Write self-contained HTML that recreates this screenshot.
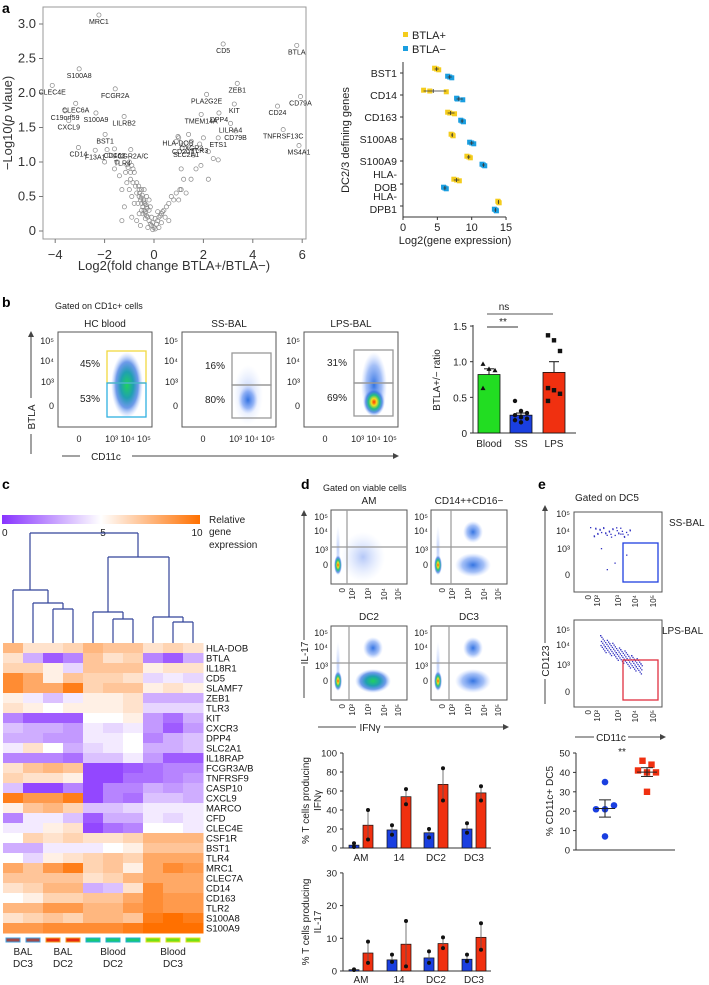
<!DOCTYPE html>
<html><head><meta charset="utf-8"><style>
html,body{margin:0;padding:0;background:#fff;}
svg{display:block;font-family:"Liberation Sans",sans-serif;}
</style></head><body>
<svg id="fig" width="709" height="985" viewBox="0 0 709 985" xmlns="http://www.w3.org/2000/svg">
<defs>
<radialGradient id="gBlue"><stop offset="0" stop-color="#2a6de0" stop-opacity="0.95"/><stop offset="0.6" stop-color="#5a8cf0" stop-opacity="0.55"/><stop offset="1" stop-color="#9ab8ff" stop-opacity="0"/></radialGradient>
<radialGradient id="gHot"><stop offset="0" stop-color="#ff3000"/><stop offset="0.25" stop-color="#f0e020"/><stop offset="0.5" stop-color="#20c080"/><stop offset="0.75" stop-color="#3070e0" stop-opacity="0.7"/><stop offset="1" stop-color="#9ab8ff" stop-opacity="0"/></radialGradient>
<radialGradient id="gGreen"><stop offset="0" stop-color="#20d060"/><stop offset="0.4" stop-color="#20a0b0"/><stop offset="0.7" stop-color="#3070e0" stop-opacity="0.7"/><stop offset="1" stop-color="#9ab8ff" stop-opacity="0"/></radialGradient>
<radialGradient id="gLight"><stop offset="0" stop-color="#6a90f0" stop-opacity="0.5"/><stop offset="1" stop-color="#b0c8ff" stop-opacity="0"/></radialGradient>
</defs>
<g font-size="14" font-weight="bold">
<text x="2" y="13">a</text>
<text x="2" y="307">b</text>
<text x="2" y="489">c</text>
<text x="301" y="489">d</text>
<text x="538" y="489">e</text>
</g>
<g id="volcano"></g>
<g id="dotplot"></g>
<g id="flowB"></g>
<g id="barB"></g>
<g id="heat"></g>
<g id="flowD"></g>
<g id="barD1"></g>
<g id="barD2"></g>
<g id="flowE"></g>
<g id="scatE"></g>
</svg>
<script>
// ---------- data ----------
const volcGenes = ["MRC1","CD5","BTLA","S100A8","CLEC4E","FCGR2A","ZEB1","PLA2G2E","CD79A","CD24","KIT","CLEC6A","C19orf59","S100A9","LILRB2","CXCL9","TMEM14A","DPP4","LILRA4","CD79B","TNFRSF13C","BST1","MS4A1","CD14","F13A1","CD163","FCGR2A/C","TLR4","HLA-DOB","CD207","CXCR3","TLR3","SLC2A1","ETS1"];
const volcFC = [-2.23,2.8,5.78,-3.03,-4.12,-1.57,3.37,2.13,5.93,5.0,3.25,-3.17,-3.6,-2.35,-1.21,-3.45,1.91,2.63,3.1,3.3,5.23,-1.98,5.87,-3.06,-2.38,-1.6,-0.94,-1.28,0.97,1.17,1.51,1.85,1.3,2.6];
const volcP = [3.13,2.71,2.69,2.35,2.11,2.06,2.14,1.98,1.95,1.81,1.84,1.85,1.74,1.71,1.66,1.6,1.69,1.71,1.56,1.45,1.47,1.40,1.24,1.21,1.17,1.19,1.18,1.08,1.37,1.25,1.3,1.26,1.2,1.35];
const bgFC = [-0.05,0,0.05,-0.1,-0.15,-0.2,-0.25,-0.3,-0.35,-0.4,-0.45,-0.5,-0.55,-0.6,-0.3,-0.4,-0.5,-0.35,-0.45,-0.2,-0.25,-0.1,-0.6,-0.7,-0.75,-0.8,-0.85,-0.9,-1.0,-0.95,-1.05,-1.1,-0.7,-0.65,-0.8,-0.9,-1.0,-1.1,-1.2,-1.3,-1.4,-1.5,-1.6,-1.8,-2.0,-1.9,-1.3,-0.9,-0.7,-0.55,-0.4,-0.3,-0.2,-0.6,-0.15,0.1,0.15,0.2,0.25,0.3,0.35,0.4,0.5,0.6,0.7,0.8,0.9,1.0,1.05,1.1,1.2,1.3,1.5,1.7,1.9,2.2,2.4,2.2,2.6,1.1,0.9,1.0,1.4,1.6,2.0,0.2,0.3,0.45,0.15,0.6,0.05,-0.05,-0.32,-0.42,-0.52,-0.28,-0.38,-0.48,-0.58,-0.62,-0.5,-0.36,-1.15,-0.85,-0.95];
const bgP = [0.02,0.05,0.03,0.08,0.1,0.15,0.2,0.22,0.28,0.3,0.35,0.4,0.45,0.5,0.35,0.42,0.3,0.18,0.25,0.3,0.05,0.2,0.6,0.7,0.65,0.85,0.9,0.95,1.0,0.85,0.92,0.96,0.55,0.4,0.4,0.5,0.6,0.7,0.35,0.6,0.8,1.0,0.9,1.1,1.0,1.18,0.15,0.2,0.15,0.08,0.6,0.5,0.45,0.25,0.35,0.1,0.15,0.2,0.22,0.25,0.28,0.3,0.35,0.4,0.5,0.45,0.55,0.45,0.6,0.6,0.75,0.55,0.75,0.9,0.95,0.75,1.05,1.15,1.03,0.9,1.3,1.35,1.4,1.1,1.35,0.05,0.12,0.2,0.28,0.15,0.18,0.12,0.38,0.45,0.48,0.33,0.4,0.52,0.55,0.65,0.6,0.26,0.85,0.7,0.75];
const volcXTicks = [-4,-2,0,2,4,6];
const volcYTicks = [0,0.5,1.0,1.5,2.0,2.5,3.0];

const dotGenes = ["BST1","CD14","CD163","S100A8","S100A9","HLA-DOB","HLA-DPB1"];
const btlaPos = [[4.6,4.9,5.2],[3.0,3.9,6.3],[6.5,6.8,7.5],[7.0,7.2,7.3],[9.3,9.6,9.8],[7.4,7.8,8.2],[13.8,13.9,14.0]];
const btlaNeg = [[6.5,6.8,7.1],[7.8,7.9,8.7],[8.4,8.6,8.8],[9.7,10.0,10.3],[11.5,11.7,11.9],[5.9,6.1,6.3],[13.3,13.5,13.6]];
const dotXTicks = [0,5,10,15];

const ratioCats = ["Blood","SS","LPS"];
const ratioMean = [0.82,0.25,0.85];
const ratioSem = [0.08,0.03,0.15];
const ratioPts = [[0.97,0.9,0.88,0.63],[0.45,0.31,0.28,0.25,0.22,0.2,0.18,0.15],[1.37,1.3,1.15,0.63,0.6,0.55,0.45]];
const ratioTicks = [0,0.5,1.0,1.5];

const heatGenes = ["HLA-DOB","BTLA","IL18R1","CD5","SLAMF7","ZEB1","TLR3","KIT","CXCR3","DPP4","SLC2A1","IL18RAP","FCGR3A/B","TNFRSF9","CASP10","CXCL9","MARCO","CFD","CLEC4E","CSF1R","BST1","TLR4","MRC1","CLEC7A","CD14","CD163","TLR2","S100A8","S100A9"];
const heatVals = [
[7.5,6,6,6.5,7.5,7,7,6,6.5,6],
[6,3,1,2,7,6,6.5,2,1,3],
[6.5,6.5,5.5,4,7,7,7,5.5,6,6],
[9,8,5.5,7,6.5,6.5,6,4,4.5,4],
[9,8,8,9.5,6.5,7,7,5.5,6,5.5],
[5.5,4.5,3.5,4.5,5.5,5.5,6,3,3,3],
[6,5.5,5,5.5,5.5,5.5,6,4,4,4],
[2,1,1,1,5,5,5.5,2.5,1.5,3],
[3.5,3,3,2.5,4.5,4,4.5,2.5,1,2.5],
[3,3,2.5,2.5,4.5,4.5,5,2,3,3.5],
[4.5,6,5,3,4,4.5,5,3,3,3.5],
[2,2,2,1.5,3.5,3.5,4.5,2.5,1,1],
[6,7,7.5,7,0.5,0.5,1,1.5,2,2],
[6.5,6,6,5.5,0.5,0.5,1.5,1.5,2,2.5],
[3.5,0.5,0.5,2,0.5,2,2,3,2.5,3],
[9.5,8.5,8.5,9.5,0.5,2,1.5,3.5,3.5,3],
[5.5,7,7.5,6.5,3.5,3.5,4,4.5,4.5,4.5],
[2,4.5,4.5,3.5,1,3,3,4.5,4,4.5],
[4.5,4.5,5.5,6,0.5,1.5,2,5,5,4.5],
[5,6.5,6,6.5,6,6,6.5,7.5,7.5,7.5],
[3,3,4.5,4.5,4.5,5,5.5,7,7,7],
[5,4,5.5,6,6.5,7,6.5,8,8,8],
[8,7,8.5,9.5,6.5,7,5.5,8,9,8.5],
[7,7,7,7,6,6.5,7.5,8,8,8],
[6,6.5,7.5,7.5,3,3.5,6,9,8,8],
[5,5.5,6.5,6.5,7,7,8,9,8.5,8.5],
[7.5,7.5,8.5,8.5,7.5,7.5,8.5,9,8.5,8.5],
[6,6.5,7,6.5,7.5,7.5,7,9.5,10,9.5],
[8.5,8.5,9,9,9,9,9.5,10,10,10]];
const heatGroups = ["BAL DC3","BAL DC3","BAL DC2","BAL DC2","Blood DC2","Blood DC2","Blood DC2","Blood DC3","Blood DC3","Blood DC3"];

const tCats = ["AM","14","DC2","DC3"];
const ifngSS = [3,19,16,20];
const ifngLPS = [24,54,67,58];
const ifngSSPts = [[5,1],[24,14],[20,11],[26,16]];
const ifngLPSPts = [[40,9],[62,46],[84,50],[65,50]];
const ifngTicks = [0,20,40,60,80,100];
const il17SS = [0.4,3.4,4,3.6];
const il17LPS = [5.5,8.2,8.4,10.3];
const il17SSPts = [[0.5,0.3],[5,2.8],[6,2.5],[5,3]];
const il17LPSPts = [[9,2.5],[15.3,1.4],[10.3,7],[14.6,6.5]];
const il17Ticks = [0,10,20,30];

const dc5SS = [35,21,21,23,7];
const dc5LPS = [46,44,41,40,40,30];
const dc5Ticks = [0,10,20,30,40,50];

// ---------- helpers ----------
const NS="http://www.w3.org/2000/svg";
function mk(parent, tag, attrs, text){
  const e=document.createElementNS(NS,tag);
  for(const k in attrs) e.setAttribute(k,attrs[k]);
  if(text!==undefined) e.textContent=text;
  parent.appendChild(e); return e;
}
function G(id){return document.getElementById(id);}

// ---------- volcano ----------
(function(){
  const g=G('volcano');
  const X=v=>154+v*24.7, Y=v=>231-v*69;
  let r=mk(g,'rect',{x:43,y:7,width:263,height:232,fill:'none',stroke:'#999','stroke-width':1});
  
  
  volcXTicks.forEach(t=>{
    mk(g,'line',{x1:X(t),x2:X(t),y1:239,y2:243,stroke:'#777'});
    const tx=mk(g,'text',{x:X(t),y:259,'font-size':13,'text-anchor':'middle',fill:'#333'},t<0?'\u2212'+(-t):String(t));
    
    
  });
  volcYTicks.forEach(t=>{
    mk(g,'line',{x1:39,x2:43,y1:Y(t),y2:Y(t),stroke:'#777'});
    const tx=mk(g,'text',{x:36,y:Y(t)+4,'font-size':13,'text-anchor':'end',fill:'#333'},t===0?'0':t.toFixed(1));
    
    
  });
  bgFC.forEach((v,i)=>{
    const c=mk(g,'circle',{cx:X(v),cy:Y(bgP[i]),r:2.1,fill:'none',stroke:'#888','stroke-width':0.7});
    
    
  });
  volcGenes.forEach((n,i)=>{
    const c=mk(g,'circle',{cx:X(volcFC[i]),cy:Y(volcP[i]),r:2.1,fill:'none',stroke:'#888','stroke-width':0.7});
    
    
    const t=mk(g,'text',{x:X(volcFC[i]),y:Y(volcP[i])+9,'font-size':7,'text-anchor':'middle',fill:'#222'},n);
    
    
  });
  let t=mk(g,'text',{x:174,y:270,'font-size':13,'text-anchor':'middle',fill:'#333'},'Log2(fold change BTLA+/BTLA\u2212)');
  
  
  t=mk(g,'text',{x:0,y:0,'font-size':13,'text-anchor':'middle',fill:'#333',transform:'translate(12,123) rotate(-90)'});
  t.innerHTML='\u2212Log10(<tspan font-style="italic">p</tspan> vlaue)';
  
  
})();

// ---------- dot plot ----------
(function(){
  const g=G('dotplot');
  const X=v=>403+v*6.87;
  const catY=[73,95,117,139,161,184,206];
  mk(g,'line',{x1:403,x2:403,y1:62,y2:217,stroke:'#333'});
  mk(g,'line',{x1:403,x2:506,y1:217,y2:217,stroke:'#333'});
  dotXTicks.forEach(t=>{
    mk(g,'line',{x1:X(t),x2:X(t),y1:217,y2:220,stroke:'#333'});
    const tx=mk(g,'text',{x:X(t),y:231,'font-size':11,'text-anchor':'middle',fill:'#222'},String(t));
    
    
  });
  dotGenes.forEach((n,i)=>{
    mk(g,'line',{x1:400,x2:403,y1:catY[i],y2:catY[i],stroke:'#333'});
    let parts=n.startsWith('HLA-')?['HLA-',n.slice(4)]:[n];
    parts.forEach((p,k)=>{
      const ty=parts.length===1?catY[i]+4:catY[i]-6+k*13;
      const tx=mk(g,'text',{x:397,y:ty,'font-size':10.5,'text-anchor':'end',fill:'#222'},p);
      
      
    });
    [[btlaPos[i],'#f4cc1c',-4],[btlaNeg[i],'#1a9ee0',4]].forEach(([vals,col,off])=>{
      vals.forEach((v,k)=>{
        const s=mk(g,'rect',{x:X(v)-2.5,y:catY[i]+off-2.5+(k-1)*0.8,width:5,height:5,fill:col});
        
        
      });
      const m=(vals[0]+vals[1]+vals[2])/3;
      mk(g,'line',{x1:X(vals[0]),x2:X(vals[2]),y1:catY[i]+off,y2:catY[i]+off,stroke:'#333','stroke-width':0.8});
      mk(g,'line',{x1:X(m),x2:X(m),y1:catY[i]+off-2,y2:catY[i]+off+2,stroke:'#333','stroke-width':0.8});
    });
  });
  let s=mk(g,'rect',{x:403,y:32,width:5,height:5,fill:'#f4cc1c'});
  
  
  s=mk(g,'rect',{x:403,y:46,width:5,height:5,fill:'#1a9ee0'});
  
  
  let t=mk(g,'text',{x:412,y:39,'font-size':11,fill:'#222'},'BTLA+');
  
  
  t=mk(g,'text',{x:412,y:53,'font-size':11,fill:'#222'},'BTLA\u2212');
  
  
  t=mk(g,'text',{x:455,y:244,'font-size':11,'text-anchor':'middle',fill:'#222'},'Log2(gene expression)');
  
  
  t=mk(g,'text',{x:0,y:0,'font-size':11,'text-anchor':'middle',fill:'#222',transform:'translate(349,140) rotate(-90)'},'DC2/3 defining genes');
  
  
})();

// ---------- flow B ----------
(function(){
  const g=G('flowB');
  let t=mk(g,'text',{x:55,y:309,'font-size':9,fill:'#222'},'Gated on CD1c+ cells');
  
  
  const plots=[{x:58,title:'HC blood',gx:107,gt:351,gm:383,gb:417,p1:'45%',p2:'53%',c1:'#f0d840',c2:'#30b0e0'},
               {x:182,title:'SS-BAL',gx:232,gt:353,gm:385,gb:418,p1:'16%',p2:'80%',c1:'#999',c2:'#999'},
               {x:304,title:'LPS-BAL',gx:354,gt:350,gm:383,gb:416,p1:'31%',p2:'69%',c1:'#999',c2:'#999'}];
  plots.forEach((p,i)=>{
    const r=mk(g,'rect',{x:p.x,y:332,width:94,height:95,fill:'#fff',stroke:'#555'});
    
    
    const tt=mk(g,'text',{x:p.x+47,y:327,'font-size':10,'text-anchor':'middle',fill:'#222'},p.title);
    
    
    [['10⁵',344],['10⁴',364],['10³',385],['0',409]].forEach(([l,y])=>mk(g,'text',{x:p.x-4,y:y,'font-size':9,'text-anchor':'end',fill:'#222'},l));
    mk(g,'text',{x:p.x+21,y:442,'font-size':9,'text-anchor':'middle',fill:'#222'},'0');
    mk(g,'text',{x:p.x+70,y:442,'font-size':9,'text-anchor':'middle',fill:'#222'},'10³ 10⁴ 10⁵');
    const cx=p.gx+20;
    if(i===0){mk(g,'ellipse',{cx:cx,cy:385,rx:16,ry:33,fill:'url(#gGreen)'});}
    if(i===1){mk(g,'ellipse',{cx:cx-4,cy:395,rx:15,ry:30,fill:'url(#gLight)'});mk(g,'ellipse',{cx:cx-4,cy:400,rx:10,ry:14,fill:'url(#gBlue)'});}
    if(i===2){mk(g,'ellipse',{cx:cx,cy:385,rx:13,ry:33,fill:'url(#gBlue)'});mk(g,'ellipse',{cx:cx,cy:402,rx:11,ry:14,fill:'url(#gHot)'});}
    mk(g,'rect',{x:p.gx,y:p.gt,width:39,height:p.gm-p.gt,fill:'none',stroke:p.c1,'stroke-width':1.3});
    mk(g,'rect',{x:p.gx,y:p.gm,width:39,height:p.gb-p.gm,fill:'none',stroke:p.c2,'stroke-width':1.3});
    mk(g,'text',{x:p.gx-17,y:p.gt+16,'font-size':10,'text-anchor':'middle',fill:'#222'},p.p1);
    mk(g,'text',{x:p.gx-17,y:p.gb-15,'font-size':10,'text-anchor':'middle',fill:'#222'},p.p2);
  });
  mk(g,'line',{x1:31,x2:31,y1:334,y2:454,stroke:'#444'});
  mk(g,'path',{d:'M28,337 L31,331 L34,337 Z',fill:'#444'});
  mk(g,'rect',{x:26,y:398,width:10,height:36,fill:'#fff'});
  t=mk(g,'text',{x:0,y:0,'font-size':10,'text-anchor':'middle',fill:'#222',transform:'translate(35,417) rotate(-90)'},'BTLA');
  
  
  mk(g,'line',{x1:62,x2:395,y1:456,y2:456,stroke:'#444'});
  mk(g,'path',{d:'M393,453 L399,456 L393,459 Z',fill:'#444'});
  mk(g,'rect',{x:80,y:448,width:52,height:14,fill:'#fff'});
  t=mk(g,'text',{x:106,y:460,'font-size':10,'text-anchor':'middle',fill:'#222'},'CD11c');
  
  
})();

// ---------- bar B ----------
(function(){
  const g=G('barB');
  const Y=v=>433-v*71.3, cx=[489,521,554], cols=['#22dd22','#1a3fe0','#f03010'];
  mk(g,'line',{x1:473,x2:473,y1:325,y2:433,stroke:'#333'});
  mk(g,'line',{x1:473,x2:576,y1:433,y2:433,stroke:'#333'});
  ratioTicks.forEach(t=>{
    mk(g,'line',{x1:470,x2:473,y1:Y(t),y2:Y(t),stroke:'#333'});
    const tx=mk(g,'text',{x:467,y:Y(t)+4,'font-size':10,'text-anchor':'end',fill:'#222'},t===0?'0':t.toFixed(1));
    
    
  });
  ratioCats.forEach((c,i)=>{
    const b=mk(g,'rect',{x:cx[i]-11,y:Y(ratioMean[i]),width:22,height:433-Y(ratioMean[i]),fill:cols[i],stroke:'#111','stroke-width':0.8});
    
    
    mk(g,'line',{x1:cx[i],x2:cx[i],y1:Y(ratioMean[i]+ratioSem[i]),y2:Y(ratioMean[i]),stroke:'#111'});
    mk(g,'line',{x1:cx[i]-5,x2:cx[i]+5,y1:Y(ratioMean[i]+ratioSem[i]),y2:Y(ratioMean[i]+ratioSem[i]),stroke:'#111'});
    ratioPts[i].forEach((v,k)=>{
      const dx=((k%3)-1)*6;
      let m;
      if(i===0) m=mk(g,'path',{d:`M${cx[i]+dx-2.5},${Y(v)+2} L${cx[i]+dx},${Y(v)-2.5} L${cx[i]+dx+2.5},${Y(v)+2} Z`,fill:'#111'});
      else if(i===1) m=mk(g,'circle',{cx:cx[i]+dx,cy:Y(v),r:2.2,fill:'#111'});
      else m=mk(g,'rect',{x:cx[i]+dx-2.2,y:Y(v)-2.2,width:4.4,height:4.4,fill:'#111'});
      
      
    });
    const tx=mk(g,'text',{x:cx[i],y:447,'font-size':10,'text-anchor':'middle',fill:'#222'},c);
    
    
  });
  mk(g,'line',{x1:487,x2:553,y1:314,y2:314,stroke:'#555'});
  mk(g,'text',{x:504,y:310,'font-size':10,'text-anchor':'middle',fill:'#222'},'ns');
  mk(g,'line',{x1:487,x2:518,y1:327,y2:327,stroke:'#333'});
  mk(g,'text',{x:503,y:325,'font-size':10,'text-anchor':'middle',fill:'#222'},'**');
  const t=mk(g,'text',{x:0,y:0,'font-size':10,'text-anchor':'middle',fill:'#222',transform:'translate(440,380) rotate(-90)'},'BTLA+/\u2212 ratio');
  
  
})();

// ---------- heatmap ----------
(function(){
  const g=G('heat');
  function col(v){
    let r,gg,b;
    if(v<5){const t=v/5;r=136+119*t;gg=51+204*t;b=255;}
    else{const t=(v-5)/5;r=255;gg=255-143*t;b=255-255*t;}
    return `rgb(${r|0},${gg|0},${b|0})`;
  }
  const lg=mk(g,'linearGradient',{id:'cbar',x1:0,x2:1,y1:0,y2:0});
  [0,2.5,5,7.5,10].forEach(v=>mk(lg,'stop',{offset:v/10,'stop-color':col(v)}));
  const cb=mk(g,'rect',{x:2,y:515,width:198,height:9,fill:'url(#cbar)'});
  
  
  mk(g,'text',{x:2,y:536,'font-size':10,fill:'#222'},'0');
  mk(g,'text',{x:103,y:536,'font-size':10,'text-anchor':'middle',fill:'#222'},'5');
  mk(g,'text',{x:197,y:536,'font-size':10,'text-anchor':'middle',fill:'#222'},'10');
  mk(g,'text',{x:209,y:523,'font-size':10,fill:'#222'},'Relative');
  mk(g,'text',{x:209,y:535,'font-size':10,fill:'#222'},'gene');
  mk(g,'text',{x:209,y:548,'font-size':10,fill:'#222'},'expression');
  const cx=k=>13+k*20;
  const dend='M30,533 H138 M30,533 V590 M138,533 V557 M13,590 H48 M13,590 V643 M48,590 V603 M33,603 H63 M33,603 V643 M63,603 V609 M53,609 H73 M53,609 V643 M73,609 V643 '+
   'M108,557 H169 M108,557 V612 M169,557 V617 M93,612 H123 M93,612 V643 M123,612 V619 M113,619 H133 M113,619 V643 M133,619 V643 '+
   'M153,617 H183 M153,617 V643 M183,617 V622 M173,622 H193 M173,622 V643 M193,622 V643';
  const d=mk(g,'path',{d:dend,fill:'none',stroke:'#33449a','stroke-width':1.2});
  
  
  heatGenes.forEach((n,i)=>{
    heatVals[i].forEach((v,k)=>{
      const c=mk(g,'rect',{x:3+k*20,y:643+i*10,width:20.5,height:10.5,fill:col(v)});
      
      
    });
    const t=mk(g,'text',{x:206,y:651.5+i*10,'font-size':9.5,fill:'#111'},n);
    
    
  });
  const stripFill={"BAL DC3":'#a04848',"BAL DC2":'#e82810',"Blood DC2":'#18c878',"Blood DC3":'#70e018'};
  const stripStroke={"BAL DC3":'#40a0e0',"BAL DC2":'#f0a020',"Blood DC2":'#20b0d0',"Blood DC3":'#e0e020'};
  heatGroups.forEach((gname,k)=>{
    const s=mk(g,'rect',{x:cx(k)-7,y:938,width:14,height:4,fill:stripFill[gname],stroke:stripStroke[gname],'stroke-width':1});
    
    
  });
  [["BAL","DC3",23],["BAL","DC2",63],["Blood","DC2",113],["Blood","DC3",173]].forEach(([a,b,x])=>{
    const t1=mk(g,'text',{x:x,y:955,'font-size':10,'text-anchor':'middle',fill:'#222'},a);
    
    
    mk(g,'text',{x:x,y:967,'font-size':10,'text-anchor':'middle',fill:'#222'},b);
  });
})();

// ---------- flow D ----------
(function(){
  const g=G('flowD');
  let t=mk(g,'text',{x:323,y:491,'font-size':9,fill:'#222'},'Gated on viable cells');
  
  
  const plots=[{x:331,y:510,title:'AM',gv:347,type:0},{x:431,y:510,title:'CD14++CD16\u2212',gv:451,type:1},
               {x:331,y:626,title:'DC2',gv:349,type:2},{x:431,y:626,title:'DC3',gv:449,type:3}];
  plots.forEach(p=>{
    const r=mk(g,'rect',{x:p.x,y:p.y,width:76,height:74,fill:'#fff',stroke:'#555'});
    
    
    const tt=mk(g,'text',{x:p.x+38,y:p.y-6,'font-size':10,'text-anchor':'middle',fill:'#222'},p.title);
    
    
    const y0=p.y+55;
    if(p.type===0){mk(g,'ellipse',{cx:p.x+32,cy:y0-8,rx:22,ry:25,fill:'url(#gLight)'});}
    else{mk(g,'ellipse',{cx:p.x+42,cy:y0,rx:18,ry:12,fill:p.type===2?'url(#gGreen)':'url(#gBlue)'});
         mk(g,'ellipse',{cx:p.x+42,cy:y0-33,rx:10,ry:11,fill:'url(#gBlue)'});}
    mk(g,'ellipse',{cx:p.x+7,cy:y0-15,rx:2.5,ry:25,fill:'url(#gLight)'});
    mk(g,'ellipse',{cx:p.x+7,cy:y0,rx:4,ry:10,fill:'url(#gHot)'});
    mk(g,'line',{x1:p.gv,x2:p.gv,y1:p.y,y2:p.y+74,stroke:'#999','stroke-width':1.2});
    mk(g,'line',{x1:p.x,x2:p.x+76,y1:p.y+37,y2:p.y+37,stroke:'#999','stroke-width':1.2});
    [['10⁵',p.y+10],['10⁴',p.y+24],['10³',p.y+43],['0',p.y+58]].forEach(([l,y])=>mk(g,'text',{x:p.x-3,y:y,'font-size':9,'text-anchor':'end',fill:'#222'},l));
    ['0','10²','10³','10⁴','10⁵'].forEach((l,k)=>{
      const xx=p.x+[14,24,40,56,70][k];
      mk(g,'text',{x:0,y:0,'font-size':8,'text-anchor':'end',fill:'#222',transform:`translate(${xx},${p.y+78}) rotate(-90)`},l);
    });
  });
  mk(g,'line',{x1:304,x2:304,y1:512,y2:698,stroke:'#444'});
  mk(g,'path',{d:'M301,516 L304,510 L307,516 Z',fill:'#444'});
  mk(g,'rect',{x:299,y:640,width:10,height:26,fill:'#fff'});
  t=mk(g,'text',{x:0,y:0,'font-size':10,'text-anchor':'middle',fill:'#222',transform:'translate(308,653) rotate(-90)'},'IL-17');
  
  
  mk(g,'line',{x1:318,x2:505,y1:727,y2:727,stroke:'#444'});
  mk(g,'path',{d:'M503,724 L509,727 L503,730 Z',fill:'#444'});
  mk(g,'rect',{x:356,y:720,width:28,height:14,fill:'#fff'});
  t=mk(g,'text',{x:370,y:731,'font-size':10,'text-anchor':'middle',fill:'#222'},'IFN\u03b3');
  
  
})();

// ---------- bar charts D ----------
function barChart(id,zeroY,pxPer,ticks,ss,lps,ssPts,lpsPts,title2,labelY,maxV){
  const g=G(id);
  const Y=v=>zeroY-v*pxPer, gc=[361,399,436,474];
  mk(g,'line',{x1:343,x2:343,y1:Y(maxV),y2:zeroY,stroke:'#333'});
  mk(g,'line',{x1:343,x2:491,y1:zeroY,y2:zeroY,stroke:'#333'});
  ticks.forEach(t=>{
    mk(g,'line',{x1:340,x2:343,y1:Y(t),y2:Y(t),stroke:'#333'});
    const tx=mk(g,'text',{x:337,y:Y(t)+3.5,'font-size':9.5,'text-anchor':'end',fill:'#222'},String(t));
    
    
  });
  tCats.forEach((c,i)=>{
    [[ss[i],ssPts[i],-7,'#1a3fe0'],[lps[i],lpsPts[i],7,'#f03010']].forEach(([v,pts,off,colr],j)=>{
      const x=gc[i]+off;
      const b=mk(g,'rect',{x:x-5,y:Y(v),width:10,height:zeroY-Y(v),fill:colr,stroke:'#111','stroke-width':0.7});
      
      
      const top=Math.max(pts[0],pts[1]), bot=Math.min(pts[0],pts[1]);
      mk(g,'line',{x1:x,x2:x,y1:Y(top),y2:Y(bot),stroke:'#555','stroke-width':0.8});
      pts.forEach(p=>{
        const m=mk(g,'circle',{cx:x,cy:Y(p),r:2,fill:'#111'});
        
        
      });
    });
    const tx=mk(g,'text',{x:gc[i],y:labelY,'font-size':10,'text-anchor':'middle',fill:'#222'},c);
    
    
  });
  const cy=(Y(maxV)+zeroY)/2;
  const t1=mk(g,'text',{x:0,y:0,'font-size':10,'text-anchor':'middle',fill:'#222',transform:`translate(309,${cy}) rotate(-90)`},'% T cells producing');
  
  
  mk(g,'text',{x:0,y:0,'font-size':10,'text-anchor':'middle',fill:'#222',transform:`translate(321,${cy}) rotate(-90)`},title2);
}
barChart('barD1',848,0.95,ifngTicks,ifngSS,ifngLPS,ifngSSPts,ifngLPSPts,'IFN\u03b3',861,100);
barChart('barD2',971,3.27,il17Ticks,il17SS,il17LPS,il17SSPts,il17LPSPts,'IL-17',983,30);

// ---------- flow E ----------
(function(){
  const g=G('flowE');
  let t=mk(g,'text',{x:607,y:501,'font-size':10,'text-anchor':'middle',fill:'#222'},'Gated on DC5');
  
  
  const plots=[{y:512,h:80,label:'SS-BAL',gate:'#2040e0',gy:543,gh:39},{y:620,h:87,label:'LPS-BAL',gate:'#e03040',gy:660,gh:40}];
  plots.forEach((p,i)=>{
    const r=mk(g,'rect',{x:574,y:p.y,width:88,height:p.h,fill:'#fff',stroke:'#555'});
    
    
    const ys=i===0?[514,531,549,575]:[630,645,665,692];
    ['10⁵','10⁴','10³','0'].forEach((l,k)=>mk(g,'text',{x:570,y:ys[k]+3,'font-size':9,'text-anchor':'end',fill:'#222'},l));
    for(let k=0;k<(i===0?40:110);k++){
      const a=(k*37%100)/100, b=(k*53%100)/100;
      let x,y;
      if(i===0){x=590+a*38+(k%5); y=527+b*10+(k%7===0?b*40:0);}
      else{x=600+a*42; y=642+a*26+(b-0.5)*14;}
      mk(g,'rect',{x:x,y:y,width:1.3,height:1.3,fill:'#3030c0'});
    }
    mk(g,'rect',{x:623,y:p.gy,width:35,height:p.gh,fill:'none',stroke:p.gate,'stroke-width':1.3});
    const lt=mk(g,'text',{x:i===0?669:662,y:p.y+14,'font-size':10,fill:'#222'},p.label);
    
    
    const ty=p.y+p.h+3;
    ['0','10²','10³','10⁴','10⁵'].forEach((l,k)=>{
      mk(g,'text',{x:0,y:0,'font-size':8,'text-anchor':'end',fill:'#222',transform:`translate(${[591,600,621,638,656][k]},${ty}) rotate(-90)`},l);
    });
  });
  mk(g,'line',{x1:545,x2:545,y1:507,y2:704,stroke:'#444'});
  mk(g,'path',{d:'M542,511 L545,505 L548,511 Z',fill:'#444'});
  mk(g,'rect',{x:539,y:643,width:12,height:36,fill:'#fff'});
  t=mk(g,'text',{x:0,y:0,'font-size':10,'text-anchor':'middle',fill:'#222',transform:'translate(549,661) rotate(-90)'},'CD123');
  
  
  mk(g,'line',{x1:575,x2:662,y1:737,y2:737,stroke:'#444'});
  mk(g,'path',{d:'M660,734 L666,737 L660,740 Z',fill:'#444'});
  mk(g,'rect',{x:594,y:730,width:34,height:14,fill:'#fff'});
  t=mk(g,'text',{x:611,y:741,'font-size':10,'text-anchor':'middle',fill:'#222'},'CD11c');
  
  
})();

// ---------- scatter E ----------
(function(){
  const g=G('scatE');
  const Y=v=>850-v*1.94;
  mk(g,'line',{x1:576,x2:576,y1:Y(50),y2:850,stroke:'#333'});
  mk(g,'line',{x1:576,x2:675,y1:850,y2:850,stroke:'#333'});
  dc5Ticks.forEach(t=>{
    mk(g,'line',{x1:573,x2:576,y1:Y(t),y2:Y(t),stroke:'#333'});
    const tx=mk(g,'text',{x:570,y:Y(t)+3.5,'font-size':9.5,'text-anchor':'end',fill:'#222'},String(t));
    
    
  });
  const mean=a=>a.reduce((s,v)=>s+v,0)/a.length;
  const sem=a=>{const m=mean(a);return Math.sqrt(a.reduce((s,v)=>s+(v-m)*(v-m),0)/(a.length-1))/Math.sqrt(a.length);};
  [[dc5SS,605,'#1a3fe0',0],[dc5LPS,647,'#f03010',1]].forEach(([arr,cx,colr,sq])=>{
    const m=mean(arr), s=sem(arr);
    arr.forEach((v,i)=>{
      let dx=0; for(let j=0;j<i;j++) if(Math.abs(arr[j]-v)<3) dx+=9;
      const x=cx+dx-(arr.filter(w=>Math.abs(w-v)<3).length-1)*4.5;
      let mrk;
      if(sq) mrk=mk(g,'rect',{x:x-3.2,y:Y(v)-3.2,width:6.4,height:6.4,fill:colr});
      else mrk=mk(g,'circle',{cx:x,cy:Y(v),r:3.3,fill:colr});
      
      
    });
    mk(g,'line',{x1:cx-10,x2:cx+10,y1:Y(m),y2:Y(m),stroke:'#222'});
    mk(g,'line',{x1:cx,x2:cx,y1:Y(m+s),y2:Y(m-s),stroke:'#222'});
    mk(g,'line',{x1:cx-6,x2:cx+6,y1:Y(m+s),y2:Y(m+s),stroke:'#222'});
    mk(g,'line',{x1:cx-6,x2:cx+6,y1:Y(m-s),y2:Y(m-s),stroke:'#222'});
  });
  mk(g,'text',{x:622,y:755,'font-size':10,'text-anchor':'middle',fill:'#222'},'**');
  const t=mk(g,'text',{x:0,y:0,'font-size':10,'text-anchor':'middle',fill:'#222',transform:'translate(553,801) rotate(-90)'},'% CD11c+ DC5');
  
  
})();
</script>
</body></html>
